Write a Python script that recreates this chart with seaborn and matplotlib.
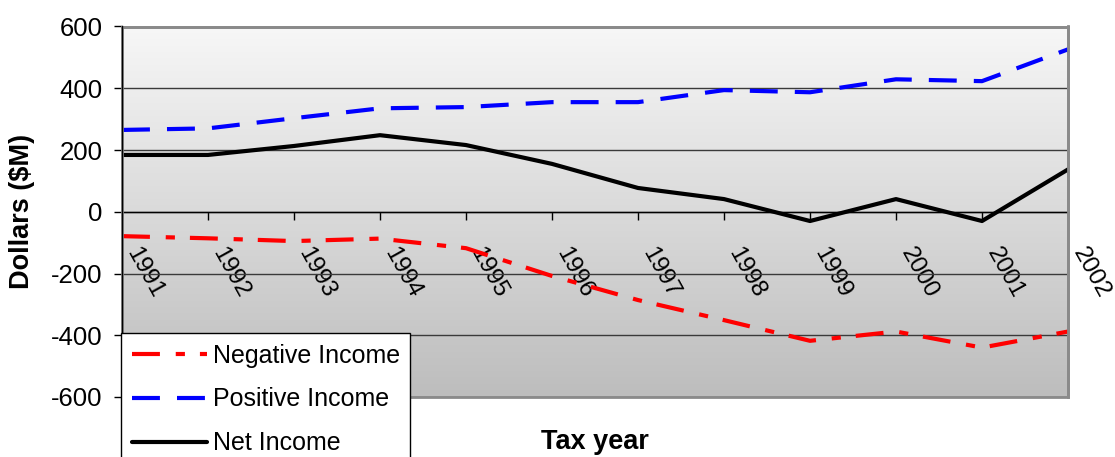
import numpy as np
import pandas as pd
import matplotlib
matplotlib.use("Agg")
import matplotlib.pyplot as plt
from matplotlib.patches import Rectangle
import seaborn as sns

# Income by tax year, $M
years = list(range(1991, 2003))
negative_income = [-79, -86, -95, -87, -118, -208, -286, -351, -418, -388, -440, -388]
positive_income = [265, 270, 303, 335, 339, 355, 355, 394, 387, 429, 423, 526]
net_income = [184, 184, 213, 248, 216, 155, 77, 41, -30, 41, -30, 137]

series_names = ["Negative Income", "Positive Income", "Net Income"]
series_colors = ["#ff0000", "#0000ff", "#000000"]
year_labels = [str(y) for y in years]
y_ticks = [-600, -400, -200, 0, 200, 400, 600]

sns.set_style("white")
plt.rcParams["font.family"] = ["Liberation Sans", "DejaVu Sans"]
plt.rcParams["text.color"] = "black"
plt.rcParams["axes.labelcolor"] = "black"
plt.rcParams["xtick.color"] = "black"
plt.rcParams["ytick.color"] = "black"

df = pd.DataFrame({
    "Tax year": years * 3,
    "Dollars": negative_income + positive_income + net_income,
    "Series": np.repeat(series_names, len(years)),
})

W, H = 1115, 457
fig = plt.figure(figsize=(W / 100, H / 100), dpi=100)
ax = fig.add_axes([122 / W, 1 - 397 / H, 946 / W, 370.5 / H])

# vertical grey gradient behind the plot area
shade = np.linspace(247, 189, 256) / 255.0
grad = np.repeat(shade[:, None, None], 3, axis=2)
ax.imshow(grad, extent=[0, 1, 0, 1], transform=ax.transAxes,
          aspect="auto", origin="upper", zorder=0)

sns.lineplot(
    data=df, x="Tax year", y="Dollars", hue="Series", style="Series",
    hue_order=series_names, style_order=series_names,
    palette=dict(zip(series_names, series_colors)),
    dashes={"Negative Income": (6.7, 3.8, 2.2, 3.6),
            "Positive Income": (6.7, 4.1),
            "Net Income": ""},
    linewidth=3, ax=ax, legend=False, zorder=3,
)

ax.set_xlim(years[0], years[-1])
ax.set_ylim(-600, 600)
ax.set_yticks(y_ticks)
ax.set_yticklabels([str(v) for v in y_ticks])
ax.set_xticks(years)
ax.set_xticklabels(year_labels)

ax.set_axisbelow(True)
ax.grid(axis="y", color="#3a3a3a", linewidth=1)
ax.grid(axis="x", visible=False)

# axes frame: x axis crosses at zero, grey border on the other sides
ax.spines["bottom"].set_position(("data", 0))
ax.spines["bottom"].set_color("black")
ax.spines["bottom"].set_linewidth(1)
ax.spines["left"].set_color("black")
ax.spines["left"].set_linewidth(1)
ax.spines["left"].set_zorder(5)
for side in ("top", "right"):
    ax.spines[side].set_color("#8a8a8a")
    ax.spines[side].set_linewidth(2)
ax.add_patch(Rectangle((0, 0), 1, 1, transform=ax.transAxes, fill=False,
                       edgecolor="#8a8a8a", linewidth=2, clip_on=False, zorder=4))

ax.tick_params(axis="y", direction="out", length=6, width=1, color="black",
               pad=8, labelsize=18.5, left=True, labelcolor="black")
ax.tick_params(axis="x", direction="out", length=6, width=1, color="black",
               pad=17, labelsize=17.5, bottom=True, labelcolor="black")
for lbl in ax.get_xticklabels():
    lbl.set_rotation(-61)
    lbl.set_ha("left")
    lbl.set_va("top")
    lbl.set_rotation_mode("default")

ax.set_ylabel("Dollars ($M)", fontsize=19.5, fontweight="bold", color="black")
ax.yaxis.set_label_coords(-0.092, 0.5)
ax.set_xlabel("Tax year", fontsize=19.5, fontweight="bold", color="black")
ax.xaxis.set_label_coords(0.5, -0.086)

leg = fig.legend(
    handles=ax.lines[:3], labels=series_names,
    loc="upper left", bbox_to_anchor=(121 / W, 1 - 333 / H),
    borderaxespad=0, fontsize=18, frameon=True, fancybox=False,
    framealpha=1, edgecolor="black", facecolor="white",
    handlelength=3.0, handletextpad=0.25, labelspacing=0.8,
    borderpad=0.42,
)
leg.get_frame().set_linewidth(1)
for t in leg.get_texts():
    t.set_color("black")

fig.savefig("out.png", dpi=100)
